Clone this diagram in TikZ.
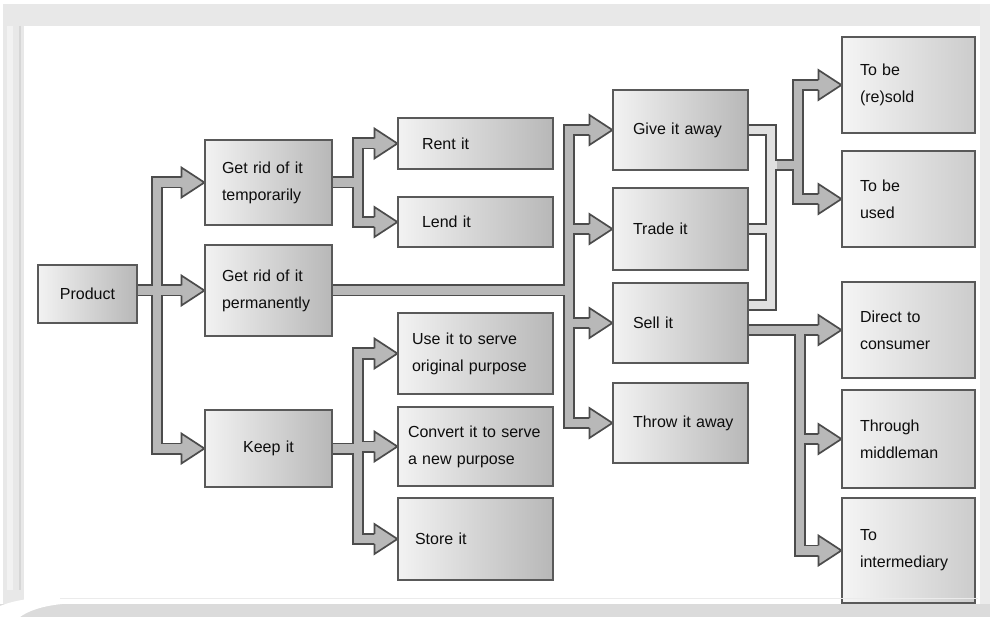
\documentclass[tikz,border=0pt]{standalone}
\usepackage{fontspec}
\setmainfont{Liberation Sans}
\usetikzlibrary{calc}
\pgfdeclarelayer{back}
\pgfdeclarelayer{bg}
\pgfsetlayers{back,bg,main}
\tikzset{
  boxst/.style={draw=black!65, line width=1.2pt, left color=black!5, right color=black!28,
    inner ysep=0pt, align=left, text=black!95, font=\fontsize{16}{27}\selectfont},
  boxc/.style={boxst, align=center},
  boxr/.style={boxst, left color=black!4, right color=black!20},
  shaftout/.style={draw=black!70, line width=12pt, line cap=rect, line join=miter},
  shaftin/.style={draw=black!28, line width=8.5pt, line cap=rect, line join=miter}
}
\newcommand\bx[8]{%
  \pgfmathsetmacro\bxw{#4-#2}\pgfmathsetmacro\bxh{#5-#3}\pgfmathsetmacro\bxt{#4-#2-2*#6}%
  \node[#7, minimum width=\bxw pt, minimum height=\bxh pt, text width=\bxt pt, inner xsep=#6pt]
    (#1) at ({(#2+#4)/2},{(#3+#5)/2}) {#8};}
\newcommand\conn[2][black!28]{\draw[shaftout] #2; \draw[shaftin,draw=#1] #2;}
\newcommand\ahead[2][black!28]{%
  \begin{scope}[shift={(#2)}]
    \fill[#1] (-23,-15)--(0,0)--(-23,15)--cycle;
    \draw[black!70,line width=1.7pt,line join=miter] (-23,-5.1)--(-23,-15)--(0,0)--(-23,15)--(-23,5.1);
  \end{scope}}
\begin{document}
\begin{tikzpicture}[x=1pt,y=-1pt]
\useasboundingbox (0,0) rectangle (990,617);
\begin{pgfonlayer}{back}
  \fill[white] (0,0) rectangle (990,617);
\end{pgfonlayer}

% boxes
\bx{prod}{38}{265}{137}{323}{6}{boxc}{Product}
\bx{tmp}{205}{140}{332}{225}{17}{boxst}{\mbox{Get rid of it}\\temporarily}
\bx{perm}{205}{245}{332}{336}{17}{boxst}{\mbox{Get rid of it}\\permanently}
\bx{keep}{205}{410}{332}{487}{6}{boxc}{Keep it}
\bx{rent}{398}{118}{553}{169}{24}{boxst}{Rent it}
\bx{lend}{398}{197}{553}{247}{24}{boxst}{Lend it}
\bx{use}{398}{313}{553}{394}{14}{boxst}{\mbox{Use it to serve}\\\mbox{original purpose}}
\bx{conv}{398}{407}{553}{486}{10}{boxst}{\mbox{Convert it to serve}\\\mbox{a new purpose}}
\bx{store}{398}{498}{553}{580}{17}{boxst}{Store it}
\bx{give}{613}{90}{748}{170}{20}{boxst}{\mbox{Give it away}}
\bx{trade}{613}{188}{748}{270}{20}{boxst}{Trade it}
\bx{sell}{613}{283}{748}{363}{20}{boxst}{Sell it}
\bx{throw}{613}{383}{748}{463}{20}{boxst}{\mbox{Throw it away}}
\bx{resold}{842}{37}{975}{133}{18}{boxr}{To be\\(re)sold}
\bx{used}{842}{151}{975}{247}{18}{boxr}{To be\\used}
\bx{direct}{842}{282}{975}{378}{18}{boxr}{Direct to\\consumer}
\bx{through}{842}{390}{975}{488}{18}{boxr}{Through\\middleman}
\bx{inter}{842}{498}{975}{603}{18}{boxr}{To\\intermediary}

\coordinate (j1) at (157,0);
\coordinate (j2) at (358,0);
\coordinate (j4) at (569,0);
\coordinate (c5) at (771,165);
\coordinate (c5r) at (777,165);
\coordinate (j5) at (798,165);
\coordinate (j6) at (800,0);
\coordinate (sellup) at ($(sell.east)+(0,-18)$);

\begin{pgfonlayer}{bg}
  % Product
  \conn{($(tmp.west)+(-22,0)$) -| (j1 |- keep.west) -- ($(keep.west)+(-22,0)$)
        (prod.east |- perm.west) -- ($(perm.west)+(-22,0)$)}
  % temporarily
  \conn{(tmp.east) -- (j2 |- tmp.east)
        ($(rent.west)+(-22,0)$) -| (j2 |- lend.west) -- ($(lend.west)+(-22,0)$)}
  % keep
  \conn{(keep.east) -- (j2 |- keep.east)
        ($(use.west)+(-22,0)$) -| (j2 |- store.west) -- ($(store.west)+(-22,0)$)
        (j2 |- conv.west) -- ($(conv.west)+(-22,0)$)}
  % permanently
  \conn{(perm.east) -- (j4 |- perm.east)
        ($(give.west)+(-22,0)$) -| (j4 |- throw.west) -- ($(throw.west)+(-22,0)$)
        (j4 |- trade.west) -- ($(trade.west)+(-22,0)$)
        (j4 |- sell.west) -- ($(sell.west)+(-22,0)$)}
  % give / trade / sell collector
  \conn[black!12]{(give.east) -| (c5 |- sellup) -- (sellup)
        (trade.east) -- (c5 |- trade.east)
        (c5) -- (j5)}
  % collector -> to be (re)sold / used
  \draw[shaftout] ($(resold.west)+(-22,0)$) -| (j5 |- used.west) -- ($(used.west)+(-22,0)$);
  \draw[shaftout,line cap=butt] (c5r) -- (j5);
  \draw[shaftin,line cap=butt] (c5r) -- (j5);
  \draw[shaftin] ($(resold.west)+(-22,0)$) -| (j5 |- used.west) -- ($(used.west)+(-22,0)$);
  % sell -> channels
  \conn{(sell.east |- direct.west) -- ($(direct.west)+(-22,0)$)
        (j6 |- direct.west) |- ($(inter.west)+(-22,0)$)
        (j6 |- through.west) -- ($(through.west)+(-22,0)$)}
  % heads
  \foreach \t in {tmp,perm,keep,rent,lend,use,conv,store,give,trade,sell,throw,resold,used,direct,through,inter}
    {\ahead{\t.west}}
\end{pgfonlayer}

% frame
\fill[black!9] (3,4) rectangle (990,26);
\fill[black!9] (3,4) rectangle (24,617);
\fill[black!5] (7,26) rectangle (13,590);
\draw[black!16, line width=1.5pt] (20,26) -- (20,590);
\fill[black!8] (980,4) rectangle (990,617);
\fill[black!14] (0,604) rectangle (990,617);
\draw[black!8, line width=1pt] (60,598) -- (978,598);
\fill[white] (0,617) -- (0,606) .. controls (15,600) and (35,597) .. (58,597) -- (62,604) .. controls (42,606) and (28,611) .. (20,617) -- cycle;
\end{tikzpicture}
\end{document}
